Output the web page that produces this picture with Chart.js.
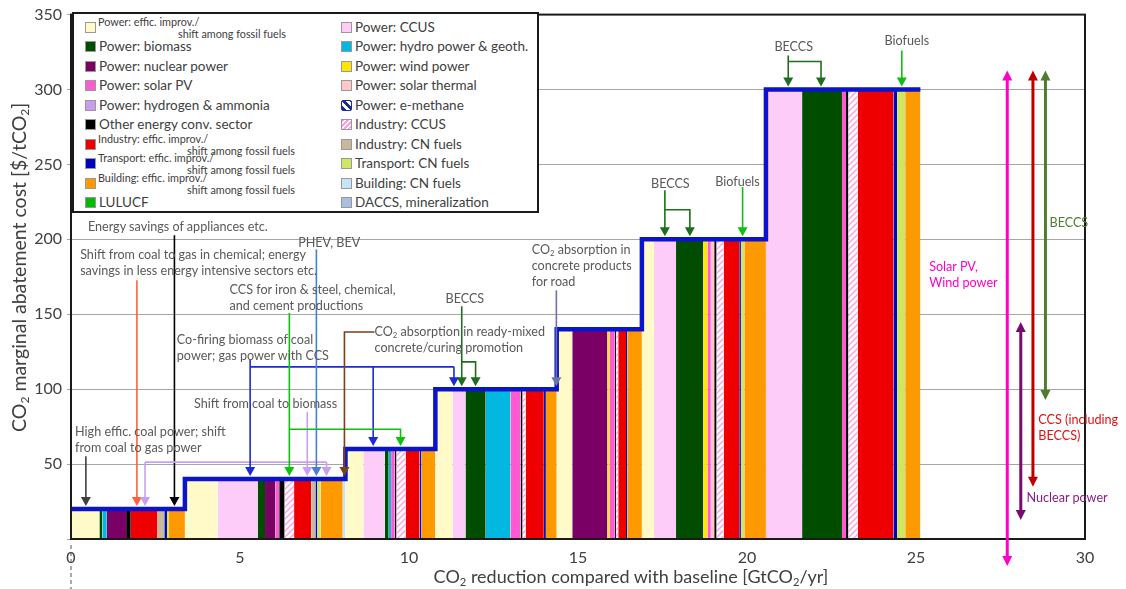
<!DOCTYPE html>
<html>
<head>
<meta charset="utf-8">
<script src="https://cdn.jsdelivr.net/npm/chart.js"></script>
<style>
  html, body { margin: 0; padding: 0; background: #fff; }
  #wrap { position: relative; width: 1126px; height: 589px; overflow: hidden;
          font-family: Lato, "Open Sans", "DejaVu Sans", sans-serif; color: #404040; }
  #wrap canvas { position: absolute; left: 0; top: 0; }
  .abs { position: absolute; white-space: nowrap; pointer-events: none; }
  .note { font-size: 12.6px; line-height: 16px; color: #595959; }
  sub { font-size: 0.62em; vertical-align: -0.25em; line-height: 0; }
  #legend { left: 72px; top: 12px; width: 463px; height: 197px; background: #fff;
            border: 2px solid #1a1a1a; }
  .sw { position: absolute; width: 9px; height: 9px; border: 1px solid #999; }
  .lt { position: absolute; font-size: 13.5px; line-height: 16px; color: #404040; }
  .ls { position: absolute; font-size: 10.8px; line-height: 12px; color: #404040; }
  #ytitle { font-size: 19.5px; line-height: 22px; color: #404040; transform-origin: 0 0; transform: rotate(-90deg); }
  #xtitle { font-size: 18px; color: #404040; transform: translateX(-50%); }
</style>
</head>
<body>
<div id="wrap">
  <canvas id="mac" width="1126" height="589"></canvas>
  <div id="legend" class="abs"></div>
  <div id="ytitle" class="abs" style="left:8px; top:432px;">CO<sub>2</sub> marginal abatement cost [$/tCO<sub>2</sub>]</div>
  <div id="xtitle" class="abs" style="left:631px; top:565px;">CO<sub>2</sub> reduction compared with baseline [GtCO<sub>2</sub>/yr]</div>
</div>
<script>
// ---- data: cost level of each step ($/tCO2) ----
const levelCosts = [20, 40, 60, 100, 140, 200, 300];

// ---- data: measures in each step, [category, reduction GtCO2/yr], left to right ----
const seg20  = [['pe',0.84],['bio',0.09],['hyd',0.13],['nuc',0.57],['oth',0.14],['ie',0.79],['icn',0.20],['te',0.08],['tcn',0.06],['be',0.47]];
const seg40  = [['pe',0.97],['ccus',1.18],['bio',0.22],['nuc',0.31],['pv',0.11],['oth',0.16],['iccus',0.28],['ie',0.51],['icn',0.12],['te',0.06],['tcn',0.09],['be',0.66],['bcn',0.08]];
const seg60  = [['pe',0.53],['ccus',0.63],['bio',0.12],['hyd',0.07],['pv',0.11],['oth',0.05],['iccus',0.27],['ie',0.41],['te',0.06],['be',0.41]];
const seg100 = [['pe',0.51],['ccus',0.38],['bio',0.60],['hyd',0.73],['pv',0.30],['oth',0.06],['iccus',0.09],['ie',0.54],['te',0.06],['be',0.32]];
const seg140 = [['pe',0.46],['nuc',1.04],['wind',0.06],['pv',0.16],['oth',0.04],['iccus',0.06],['ie',0.23],['te',0.04],['be',0.43]];
const seg200 = [['pe',0.36],['ccus',0.65],['bio',0.80],['wind',0.13],['pv',0.10],['st',0.10],['oth',0.07],['iccus',0.21],['ie',0.46],['te',0.05],['tcn',0.10],['be',0.64]];
const seg300 = [['ccus',1.07],['bio',1.18],['pv',0.12],['oth',0.07],['iccus',0.28],['ie',1.05],['te',0.11],['tcn',0.24],['be',0.45]];
const levelSegments = [seg20, seg40, seg60, seg100, seg140, seg200, seg300];

// ---- tick labels ----
const xTicks = [0, 5, 10, 15, 20, 25, 30];
const yTicks = [50, 100, 150, 200, 250, 300, 350];

// ---- legend categories ----
const legendLeft  = ['pe','bio','nuc','pv','h2','oth','ie','te','be','lulucf'];
const legendRight = ['ccus','hyd','wind','st','emeth','iccus','icn','tcn','bcn','dac'];
const categoryLabels = {
  pe: ['Power: effic. improv./', 'shift among fossil fuels'],
  bio: ['Power: biomass'], nuc: ['Power: nuclear power'], pv: ['Power: solar PV'],
  h2: ['Power: hydrogen & ammonia'], oth: ['Other energy conv. sector'],
  ie: ['Industry: effic. improv./', 'shift among fossil fuels'],
  te: ['Transport: effic. improv./', 'shift among fossil fuels'],
  be: ['Building: effic. improv./', 'shift among fossil fuels'],
  lulucf: ['LULUCF'],
  ccus: ['Power: CCUS'], hyd: ['Power: hydro power & geoth.'], wind: ['Power: wind power'],
  st: ['Power: solar thermal'], emeth: ['Power: e-methane'], iccus: ['Industry: CCUS'],
  icn: ['Industry: CN fuels'], tcn: ['Transport: CN fuels'], bcn: ['Building: CN fuels'],
  dac: ['DACCS, mineralization']
};

// ---- annotation texts: [x Gt, y $ of first line, colour, lines] ----
const notes = [
  [0.12, 71.5, '#595959', ['High effic. coal power; shift', 'from coal to gas power']],
  [0.50, 208, '#595959', ['Energy savings of appliances etc.']],
  [0.27, 189.3, '#595959', ['Shift from coal to gas in chemical; energy', 'savings in less energy intensive sectors etc.']],
  [6.72, 197.8, '#595959', ['PHEV, BEV']],
  [4.69, 166, '#595959', ['CCS for iron &amp; steel, chemical,', 'and cement productions']],
  [3.13, 133.1, '#595959', ['Co-firing biomass of coal', 'power; gas power with CCS']],
  [3.64, 90, '#595959', ['Shift from coal to biomass']],
  [8.98, 138.2, '#595959', ['CO<sub>2</sub> absorption in ready-mixed', 'concrete/curing promotion']],
  [11.08, 160.5, '#595959', ['BECCS']],
  [13.63, 193.1, '#595959', ['CO<sub>2</sub> absorption in', 'concrete products', 'for road']],
  [17.16, 237.1, '#595959', ['BECCS']],
  [19.06, 238.2, '#595959', ['Biofuels']],
  [20.81, 328.7, '#595959', ['BECCS']],
  [24.07, 332.2, '#595959', ['Biofuels']],
  [25.39, 181.5, '#ff00cc', ['Solar PV,', 'Wind power']],
  [28.95, 210.9, '#4e7d2e', ['BECCS']],
  [28.62, 79.3, '#e01010', ['CCS (including', 'BECCS)']],
  [28.27, 27.3, '#8a1e84', ['Nuclear power']]
];

// ---- pointer arrows: polylines in data units, last point is a tip sitting on a step ----
const pointerArrows = [
  ['#404040', [[0.44,55.3],[0.44,20]], true],
  ['#ff6040', [[1.95,172.7],[1.95,20]], true],
  ['#000000', [[3.06,202.7],[3.06,20]], true],
  ['#c8a0f0', [[6.99,84.7],[6.99,40]], true],
  ['#c8a0f0', [[2.19,51.3],[7.56,51.3]], false],
  ['#c8a0f0', [[2.19,51.3],[2.19,20]], true],
  ['#c8a0f0', [[7.56,51.3],[7.56,40]], true],
  ['#1a2ad8', [[5.30,120],[5.30,40]], true],
  ['#1a2ad8', [[5.30,114.9],[11.33,114.9]], false],
  ['#1a2ad8', [[8.94,114.9],[8.94,60]], true],
  ['#1a2ad8', [[11.33,114.9],[11.33,100]], true],
  ['#10c010', [[6.46,150.9],[6.46,40]], true],
  ['#10c010', [[6.46,73.3],[9.75,73.3],[9.75,60]], true],
  ['#4a7fd0', [[7.26,193.3],[7.26,40]], true],
  ['#7b3f1a', [[8.98,138.2],[8.09,138.2],[8.09,40]], true],
  ['#1f6e1f', [[11.56,155.3],[11.56,100]], true],
  ['#1f6e1f', [[11.56,118.2],[11.97,118.2],[11.97,100]], true],
  ['#6b73a8', [[14.36,166],[14.36,100]], true],
  ['#1f6e1f', [[17.57,232.7],[17.57,200]], true],
  ['#1f6e1f', [[17.57,219.8],[18.31,219.8],[18.31,200]], true],
  ['#10c010', [[19.87,234.9],[19.87,200]], true],
  ['#1f6e1f', [[21.22,322.7],[21.22,300]], true],
  ['#1f6e1f', [[21.22,318.7],[22.19,318.7],[22.19,300]], true],
  ['#10c010', [[24.58,326],[24.58,300]], true]
];

// ---- cost ranges on the right: [x Gt, low $, high $, colour] ----
const rangeArrows = [
  [27.70, -18, 312.7, '#ff00cc'],
  [28.10, 12.7, 144.9, '#7b0a6e'],
  [28.46, 34.9, 312.7, '#c00000'],
  [28.83, 92.7, 312.7, '#4e7d2e']
];

// ---------------- styles ----------------
const FONT = 'Lato, "Open Sans", "DejaVu Sans", sans-serif';
const colors = {
  pe: '#fffac8', bio: '#004d00', nuc: '#7b0066', pv: '#ff5ad2', h2: '#c99cf0', oth: '#000000',
  ie: '#ee0000', te: '#0000c0', be: '#ff9900', lulucf: '#00bb00',
  ccus: '#fdccf9', hyd: '#00b8e0', wind: '#ffe600', st: '#ffc8c8', icn: '#c8b99a',
  tcn: '#cde860', bcn: '#c6e4f8', dac: '#a8c0e0'
};
const cssFill = {
  emeth: 'repeating-linear-gradient(45deg, #1a2a9a 0 3px, #fff 3px 6px)',
  iccus: 'repeating-linear-gradient(135deg, #ff9de6 0 1.5px, #fff 1.5px 3.5px)'
};

function hatch() {
  const c = document.createElement('canvas');
  c.width = 6; c.height = 6;
  const g = c.getContext('2d');
  g.fillStyle = '#ffffff'; g.fillRect(0, 0, 6, 6);
  g.strokeStyle = '#ff9de6'; g.lineWidth = 1.4;
  g.beginPath(); g.moveTo(-1, 7); g.lineTo(7, -1); g.moveTo(-1, 1); g.lineTo(1, -1); g.moveTo(5, 7); g.lineTo(7, 5); g.stroke();
  return g.createPattern(c, 'repeat');
}

// ---------------- legend (html) ----------------
const legendEl = document.getElementById('legend');
function addLegendColumn(keys, swLeft, txtLeft) {
  keys.forEach((k, i) => {
    const cy = 13 + i * 19.45;           // row centre inside the box
    const sw = document.createElement('div');
    sw.className = 'sw';
    sw.style.left = swLeft + 'px'; sw.style.top = (cy - 5) + 'px';
    sw.style.background = cssFill[k] || colors[k];
    if (k === 'emeth') { sw.style.borderRadius = '2px'; sw.style.borderColor = '#1a2a9a'; }
    legendEl.appendChild(sw);
    const lab = categoryLabels[k];
    if (lab.length === 1) {
      const t = document.createElement('div');
      t.className = 'lt'; t.textContent = lab[0];
      t.style.left = txtLeft + 'px'; t.style.top = (cy - 8) + 'px';
      legendEl.appendChild(t);
    } else {
      const a = document.createElement('div');
      a.className = 'ls'; a.textContent = lab[0];
      a.style.left = (txtLeft - 1) + 'px'; a.style.top = (cy - 11) + 'px';
      const b = document.createElement('div');
      b.className = 'ls'; b.textContent = lab[1];
      b.style.left = (txtLeft + (i === 0 ? 79 : 88)) + 'px'; b.style.top = (cy + 1) + 'px';
      legendEl.appendChild(a); legendEl.appendChild(b);
    }
  });
}
addLegendColumn(legendLeft, 11, 25);
addLegendColumn(legendRight, 267, 281);

// ---------------- annotation texts (html, placed by scale) ----------------
const wrap = document.getElementById('wrap');
const noteEls = notes.map(([x, y, col, lines]) => {
  const d = document.createElement('div');
  d.className = 'abs note';
  d.style.color = col;
  d.innerHTML = lines.join('<br>');
  wrap.appendChild(d);
  return [x, y, d];
});

// ---------------- datasets ----------------
const datasets = [];
const stepPts = [];
let cum = 0;
const iccusPattern = hatch();
levelSegments.forEach((segs, i) => {
  const cost = levelCosts[i];
  stepPts.push({ x: cum, y: cost });
  segs.forEach(([k, w]) => {
    datasets.push({
      type: 'line',
      data: [{ x: cum, y: cost }, { x: cum + w, y: cost }],
      backgroundColor: k === 'iccus' ? iccusPattern : colors[k],
      borderColor: 'rgba(0,0,0,0)', borderWidth: 0,
      pointRadius: 0, fill: 'origin', order: 2
    });
    cum += w;
  });
});
stepPts.push({ x: cum, y: levelCosts[levelCosts.length - 1] });
datasets.push({
  type: 'line', data: stepPts, stepped: true,
  borderColor: '#0a14c8', borderWidth: 4.5, pointRadius: 0, fill: false, order: 0,
  borderCapStyle: 'butt', borderJoinStyle: 'miter'
});

// ---------------- drawing helpers ----------------
function head(ctx, x, y, dir, w, h) {
  ctx.beginPath();
  ctx.moveTo(x, y);
  ctx.lineTo(x - w / 2, y - dir * h);
  ctx.lineTo(x + w / 2, y - dir * h);
  ctx.closePath();
  ctx.fill();
}

const decor = {
  id: 'decor',
  afterDatasetsDraw(chart) {
    const { ctx, chartArea: a } = chart;
    const xs = chart.scales.x, ys = chart.scales.y;
    ctx.save();
    // frame
    ctx.strokeStyle = '#1a1a1a'; ctx.lineWidth = 2;
    ctx.strokeRect(a.left, a.top, a.right - a.left, a.bottom - a.top);
    // dashed line under the origin
    ctx.strokeStyle = '#555'; ctx.lineWidth = 1; ctx.setLineDash([4, 3]);
    ctx.beginPath(); ctx.moveTo(a.left, a.bottom + 6); ctx.lineTo(a.left, chart.height); ctx.stroke();
    ctx.setLineDash([]);
    // pointer arrows
    pointerArrows.forEach(([col, pts, tip]) => {
      ctx.strokeStyle = col; ctx.fillStyle = col; ctx.lineWidth = 1.6;
      const p = pts.map(([x, y]) => [xs.getPixelForValue(x), ys.getPixelForValue(y)]);
      if (tip) p[p.length - 1][1] -= 3;
      ctx.beginPath();
      p.forEach(([x, y], i) => {
        const yy = (tip && i === p.length - 1) ? y - 8 : y;
        i ? ctx.lineTo(x, yy) : ctx.moveTo(x, yy);
      });
      ctx.stroke();
      if (tip) head(ctx, p[p.length - 1][0], p[p.length - 1][1], 1, 10, 9);
    });
    // range double arrows
    rangeArrows.forEach(([x, lo, hi, col]) => {
      const px = xs.getPixelForValue(x), y0 = ys.getPixelForValue(lo), y1 = ys.getPixelForValue(hi);
      ctx.strokeStyle = col; ctx.fillStyle = col; ctx.lineWidth = 3;
      ctx.beginPath(); ctx.moveTo(px, y0 - 8); ctx.lineTo(px, y1 + 8); ctx.stroke();
      head(ctx, px, y0, 1, 10, 10);
      head(ctx, px, y1, -1, 10, 10);
    });
    ctx.restore();
  },
  afterDraw(chart) {
    const xs = chart.scales.x, ys = chart.scales.y;
    noteEls.forEach(([x, y, el]) => {
      el.style.left = xs.getPixelForValue(x) + 'px';
      el.style.top = (ys.getPixelForValue(y) - 8) + 'px';
    });
  }
};

new Chart(document.getElementById('mac'), {
  type: 'line',
  data: { datasets },
  options: {
    responsive: false,
    animation: false,
    events: [],
    layout: { padding: { top: 12, right: 41, bottom: 0, left: 0 } },
    plugins: { legend: { display: false }, tooltip: { enabled: false } },
    scales: {
      x: {
        type: 'linear', min: 0, max: 30,
        afterBuildTicks: s => { s.ticks = xTicks.map(v => ({ value: v })); },
        ticks: { color: '#404040', font: { family: FONT, size: 16 }, padding: 1, maxRotation: 0 },
        grid: { display: false }, border: { display: false },
        afterFit: s => { s.height = 50; }
      },
      y: {
        min: 0, max: 350,
        afterBuildTicks: s => { s.ticks = [0].concat(yTicks).map(v => ({ value: v })); },
        ticks: { color: '#404040', font: { family: FONT, size: 16 }, padding: 5,
                 callback: v => (v === 0 ? '' : v) },
        grid: { color: '#a6a6a6', lineWidth: 1, tickLength: 4 },
        border: { display: false },
        afterFit: s => { s.width = 71; }
      }
    }
  },
  plugins: [decor]
});
</script>
</body>
</html>
